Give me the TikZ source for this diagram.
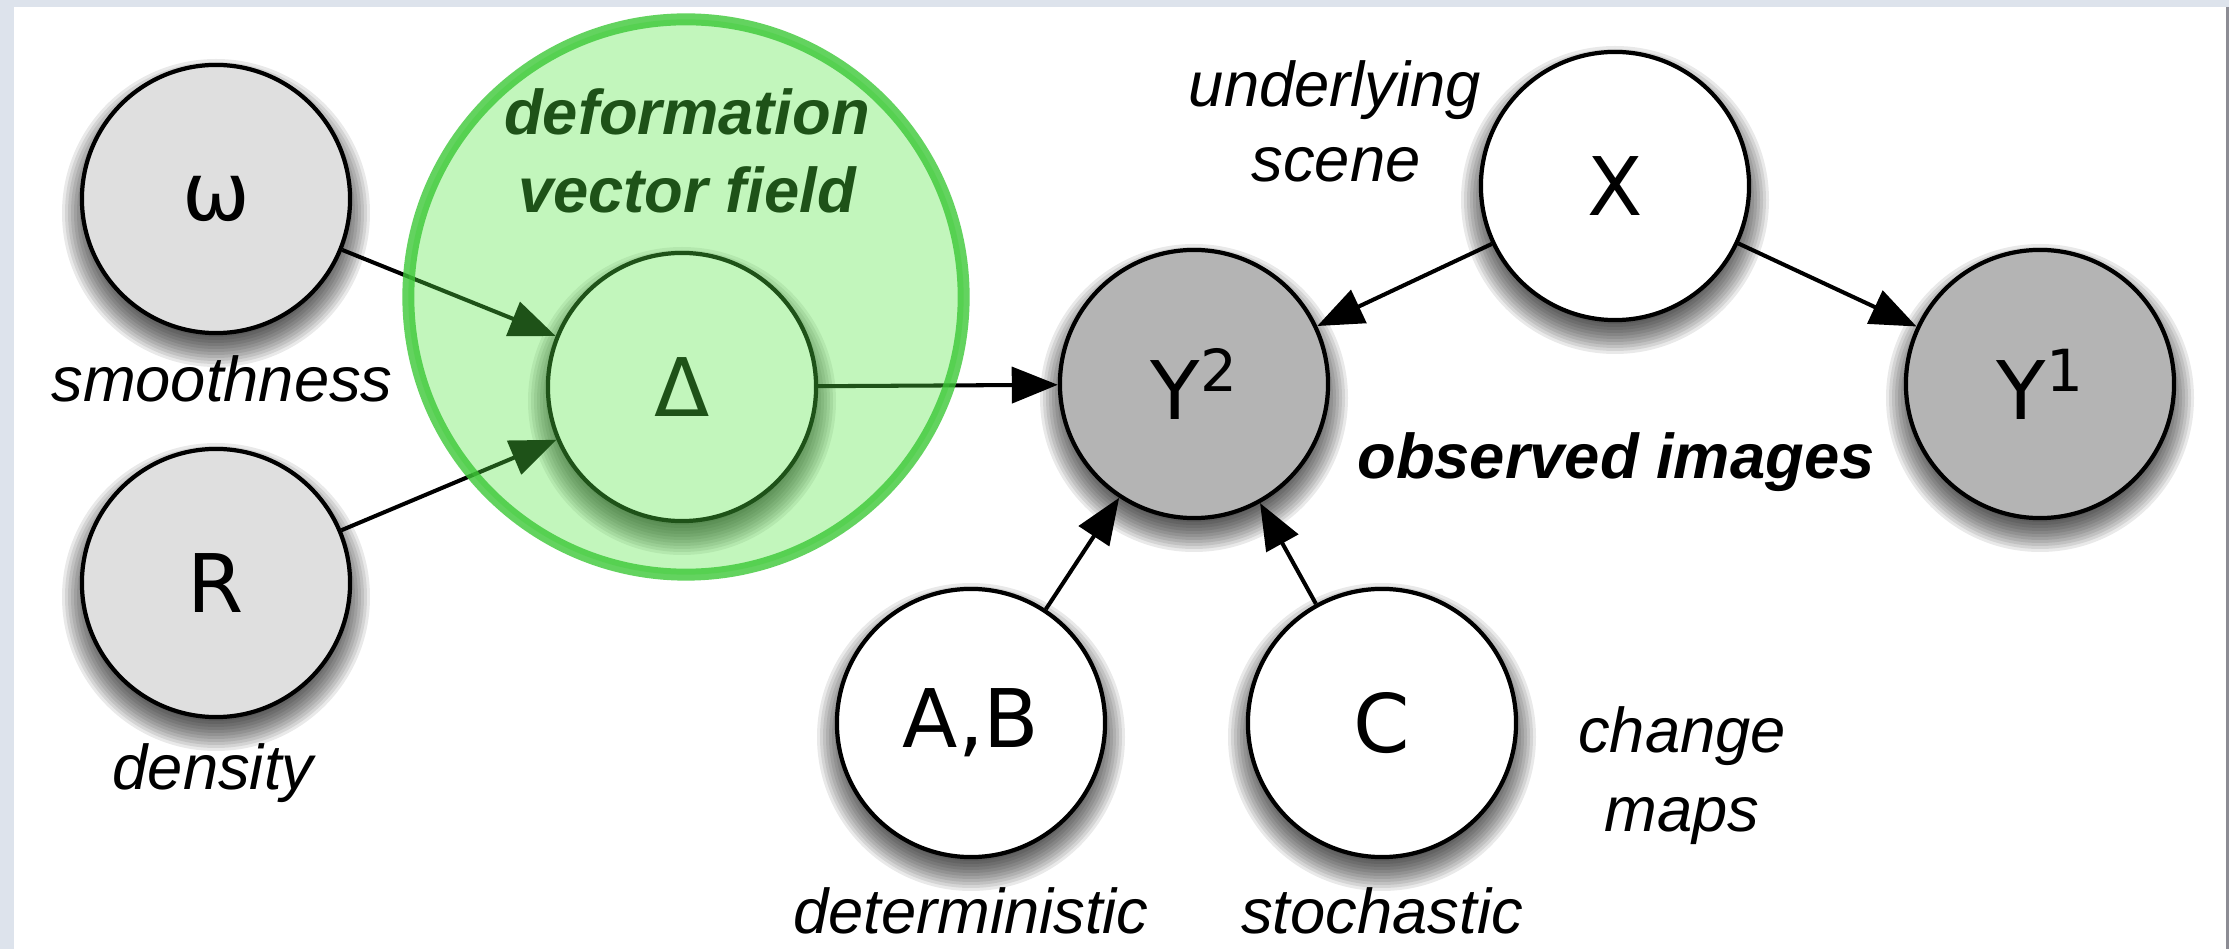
\documentclass[tikz,border=0pt]{standalone}
\usepackage{fontspec}
\newfontfamily\lblfont{Liberation Sans}
\newfontfamily\symfont{DejaVu Sans}
\usetikzlibrary{arrows.meta}
\definecolor{bgframe}{RGB}{221,227,236}
\definecolor{edgebar}{RGB}{140,140,148}
\definecolor{lightnode}{RGB}{223,223,223}
\definecolor{darknode}{RGB}{180,180,180}
\definecolor{ovgreen}{RGB}{85,231,68}
\definecolor{ovring}{RGB}{60,200,55}
\tikzset{
  var/.style={circle, draw=black, line width=1.2pt, minimum size=2.68cm, inner sep=0pt,
    font=\symfont\fontsize{23}{23}\selectfont},
  lightvar/.style={var, fill=lightnode},
  obsvar/.style={var, fill=darknode},
  latvar/.style={var, fill=white},
  lbl/.style={anchor=base, inner sep=0pt, font=\lblfont\itshape\fontsize{18}{22}\selectfont},
  boldlbl/.style={anchor=base, inner sep=0pt, font=\lblfont\bfseries\itshape\fontsize{18}{22}\selectfont},
  edgearrow/.style={line width=1.15pt, -{Triangle[length=0.46cm,width=0.36cm]}},
  fieldcircle/.style={circle, minimum size=5.55cm, inner sep=0pt, fill=ovgreen, fill opacity=0.355,
    draw=ovring, draw opacity=0.8, line width=3.4pt},
}
\newcommand{\castshadow}[2]{%
  \foreach \k in {0,...,11}{\fill[black,opacity=0.085] (#1,#2+14) circle ({154-3*\k});}}
\begin{document}
\begin{tikzpicture}[x=0.01cm,y=-0.01cm]
\useasboundingbox (0,0) rectangle (2229,949);
% frame
\fill[bgframe] (0,0) rectangle (2229,949);
\fill[white] (14,7) rectangle (2226,949);
\fill[edgebar] (2226,7) rectangle (2229,949);
% shadows
\castshadow{216}{199}
\castshadow{216}{583}
\castshadow{682}{387}
\castshadow{1194}{384}
\castshadow{1615}{186}
\castshadow{2040}{384}
\castshadow{971}{723}
\castshadow{1382}{723}
% nodes
\node[lightvar] (w) at (216,199) {ω};
\node[lightvar] (R) at (216,583) {R};
\node[latvar] (D) at (682,387) {Δ};
\node[obsvar] (Y2) at (1194,384) {Y\raisebox{8pt}{\fontsize{16.5}{16.5}\selectfont 2}};
\node[latvar] (X) at (1615,186) {X};
\node[obsvar] (Y1) at (2040,384) {Y\raisebox{8pt}{\fontsize{16.5}{16.5}\selectfont 1}};
\node[latvar] (AB) at (971,723) {A,B};
\node[latvar] (C) at (1382,723) {C};
% labels
\node[lbl] (smooth) at (222,402) {smoothness};
\node[lbl] (dens) at (213,790) {density};
\node[boldlbl] (def1) at (687,135) {deformation};
\node[boldlbl] (def2) at (687,213) {vector field};
\node[lbl] (und1) at (1335,107) {underlying};
\node[lbl] (und2) at (1336,182) {scene};
\node[boldlbl] (obs) at (1616,479) {observed images};
\node[lbl] (chg1) at (1682,753) {change};
\node[lbl] (chg2) at (1682,832) {maps};
\node[lbl] (det) at (971,934) {deterministic};
\node[lbl] (sto) at (1382,934) {stochastic};
% connectors
\draw[edgearrow] (w) -- (D);
\draw[edgearrow] (R) -- (D);
\draw[edgearrow] (D) -- (Y2);
\draw[edgearrow] (X) -- (Y2);
\draw[edgearrow] (X) -- (Y1);
\draw[edgearrow] (AB) -- (Y2);
\draw[edgearrow] (C) -- (Y2);
% translucent field overlay
\node[fieldcircle] (field) at (686,297) {};
\end{tikzpicture}
\end{document}
